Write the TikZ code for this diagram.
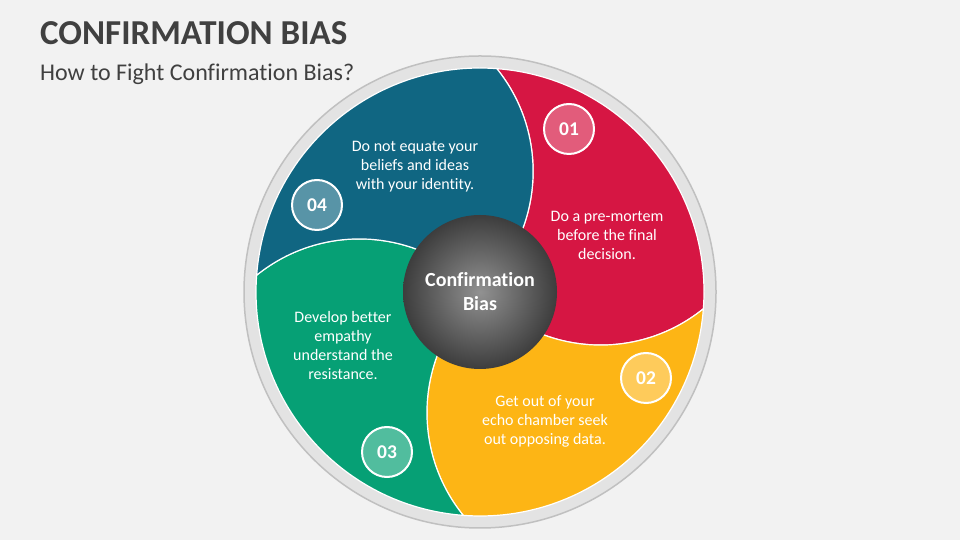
\documentclass[tikz,border=0pt]{standalone}
\usepackage{fontspec}
\setmainfont{Carlito}[Ligatures=NoCommon]
\usetikzlibrary{positioning}
\definecolor{bgpaper}{RGB}{242,242,242}
\definecolor{ringfill}{RGB}{227,227,227}
\definecolor{ringline}{RGB}{192,192,192}
\definecolor{inkgray}{RGB}{64,64,64}
\definecolor{petred}{RGB}{214,22,67}
\definecolor{petyellow}{RGB}{253,181,21}
\definecolor{petgreen}{RGB}{6,160,117}
\definecolor{petblue}{RGB}{16,102,130}
\tikzset{numdisc/.style={circle,draw=white,line width=2pt,minimum size=50pt,inner sep=0pt,
    font=\fontsize{19.5}{19.5}\selectfont\bfseries,text=white},
  tiptext/.style={align=center,text=white,font=\fontsize{16}{19}\selectfont},
  petal/.style={draw=white,line width=1.2pt}}

\begin{document}
\begin{tikzpicture}[x=1pt,y=1pt]
\fill[bgpaper] (0,0) rectangle (960,540);
\useasboundingbox (0,0) rectangle (960,540);
\node[anchor=base west,inner sep=0pt,text=inkgray,font=\fontsize{35}{35}\selectfont\bfseries] (title) at (40,495) {CONFIRMATION BIAS};
\node[anchor=base west,inner sep=0pt,text=inkgray,font=\fontsize{24}{24}\selectfont] (subtitle) at (40,459) {How to Fight Confirmation Bias?};
\filldraw[fill=ringfill,draw=ringline,line width=1.5pt] (480,248) circle[radius=236];
\begin{scope}[shift={(480,248)}]
% four swirl petals, one rotated copy each
\foreach \col/\rot in {petred/0,petyellow/-90,petgreen/-180,petblue/-270}
  \filldraw[petal,fill=\col,rotate=\rot] (0,0) arc[start angle=-47.5,end angle=38.9,radius=163.6]
    arc[start angle=85.7,end angle=-4.3,radius=224]
    arc[start angle=-51.1,end angle=-137.5,radius=163.6] -- cycle;
\shade[inner color=black!43,outer color=black!76] (0,0) circle[radius=77];
\node[align=center,text=white,font=\fontsize{20}{24}\selectfont\bfseries] (hub) at (0,0) {Confirmation\\Bias};
\node[tiptext] (tipred) at (127,57) {Do a pre-mortem\\before the final\\decision.};
\node[tiptext] (tipyellow) at (65,-129) {Get out of your\\echo chamber seek\\out opposing data.};
\node[tiptext] (tipgreen) at (-137,-54) {Develop better\\empathy\\understand the\\resistance.};
\node[tiptext] (tipblue) at (-65,125) {Do not equate your\\beliefs and ideas\\with your identity.};
\foreach \num/\col/\pos in {01/petred/{(89,163)},02/petyellow/{(166,-86)},03/petgreen/{(-93,-160)},04/petblue/{(-163,87)}}
  \node[numdisc,fill=\col!70!white] (n\num) at \pos {\num};
\end{scope}
\end{tikzpicture}
\end{document}
